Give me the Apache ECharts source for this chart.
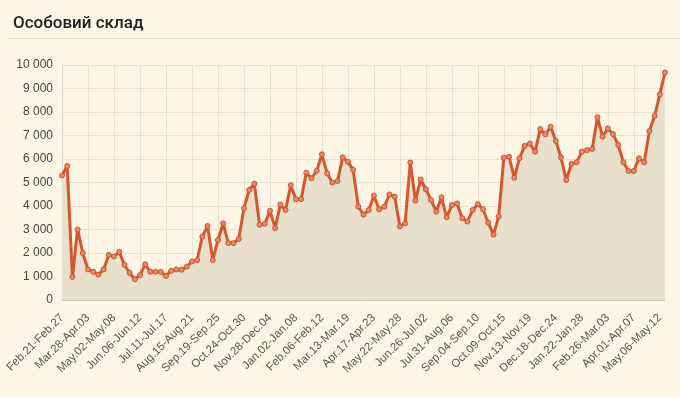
<!DOCTYPE html>
<html>
<head>
<meta charset="utf-8">
<script src="https://cdn.jsdelivr.net/npm/echarts@6/dist/echarts.min.js"></script>
<style>
  html, body { margin: 0; padding: 0; background: #fdf6e7; }
  #chart { width: 680px; height: 397px; }
</style>
</head>
<body>
<div id="chart"></div>
<script>
// weekly periods, starting Mon Feb 21 2022
const startDate = [2022, 1, 21];
const weekCount = 117;
const monthNames = ['Jan', 'Feb', 'Mar', 'Apr', 'May', 'Jun', 'Jul', 'Aug', 'Sep', 'Oct', 'Nov', 'Dec'];

const values = [
  5300, 5700, 980, 3000, 2000, 1300, 1200, 1080, 1300, 1920,
  1850, 2050, 1500, 1160, 880, 1060, 1520, 1200, 1200, 1200,
  1020, 1240, 1300, 1290, 1420, 1640, 1700, 2700, 3150, 1700,
  2550, 3260, 2420, 2420, 2600, 3900, 4680, 4950, 3200, 3240,
  3800, 3060, 4060, 3830, 4880, 4290, 4290, 5420, 5180, 5500,
  6200, 5390, 5000, 5060, 6070, 5880, 5540, 3980, 3630, 3830,
  4440, 3860, 3970, 4490, 4400, 3130, 3260, 5850, 4230, 5130,
  4710, 4250, 3760, 4370, 3520, 4040, 4110, 3480, 3340, 3830,
  4080, 3860, 3290, 2780, 3550, 6050, 6100, 5200, 6030, 6560,
  6660, 6310, 7270, 7050, 7370, 6770, 6060, 5110, 5790, 5860,
  6310, 6380, 6430, 7780, 6950, 7300, 7060, 6600, 5860, 5490,
  5490, 6030, 5860, 7190, 7830, 8750, 9680
];

const yTicks = [0, 1000, 2000, 3000, 4000, 5000, 6000, 7000, 8000, 9000, 10000];

function pad(n) { return String(n).padStart(2, '0'); }
const categories = [];
for (let i = 0; i < weekCount; i++) {
  const a = new Date(startDate[0], startDate[1], startDate[2] + i * 7);
  const b = new Date(startDate[0], startDate[1], startDate[2] + i * 7 + 6);
  categories.push(monthNames[a.getMonth()] + '.' + pad(a.getDate()) + '-' + monthNames[b.getMonth()] + '.' + pad(b.getDate()));
}

function fmt(v) {
  return String(v).replace(/\B(?=(\d{3})+(?!\d))/g, ' ');
}

const chart = echarts.init(document.getElementById('chart'), null, { renderer: 'canvas' });
const option = {
  backgroundColor: '#fdf6e7',
  animation: false,
  title: {
    text: 'Особовий склад',
    left: 8,
    top: 10,
    textStyle: {
      fontFamily: 'Roboto',
      fontSize: 17,
      fontWeight: 500,
      color: '#1f1f1f'
    }
  },
  graphic: [
    {
      type: 'line',
      shape: { x1: 8, y1: 38.5, x2: 680, y2: 38.5 },
      style: { stroke: '#eadfcc', lineWidth: 1 }
    }
  ],
  grid: {
    left: 62,
    right: 15,
    top: 65,
    bottom: 97
  },
  xAxis: {
    type: 'category',
    boundaryGap: false,
    data: categories,
    axisLine: { lineStyle: { color: '#cfc5b3' } },
    axisTick: { show: false },
    axisLabel: {
      interval: 4,
      rotate: 45,
      color: '#555',
      fontSize: 11.5,
      fontFamily: 'Liberation Sans',
      margin: 16,
      padding: [14, 0, 0, 0]
    },
    splitLine: {
      show: true,
      interval: 4,
      lineStyle: { color: '#e9e0cf' }
    }
  },
  yAxis: {
    type: 'value',
    min: yTicks[0],
    max: yTicks[yTicks.length - 1],
    interval: 1000,
    axisLine: { show: true, lineStyle: { color: '#ddd3c1' } },
    axisTick: { show: false },
    axisLabel: {
      color: '#444',
      fontSize: 12,
      fontFamily: 'Liberation Sans',
      margin: 9,
      formatter: fmt
    },
    splitLine: { lineStyle: { color: '#e9e0cf' } }
  },
  series: [
    {
      type: 'line',
      data: values,
      symbol: 'circle',
      symbolSize: 5,
      showAllSymbol: true,
      lineStyle: { color: '#d5582c', width: 3 },
      itemStyle: { color: '#e58a66', borderColor: '#d0532a', borderWidth: 1 },
      areaStyle: { color: '#e9dfcd', opacity: 1 }
    }
  ]
};
chart.setOption(option);
</script>
</body>
</html>
